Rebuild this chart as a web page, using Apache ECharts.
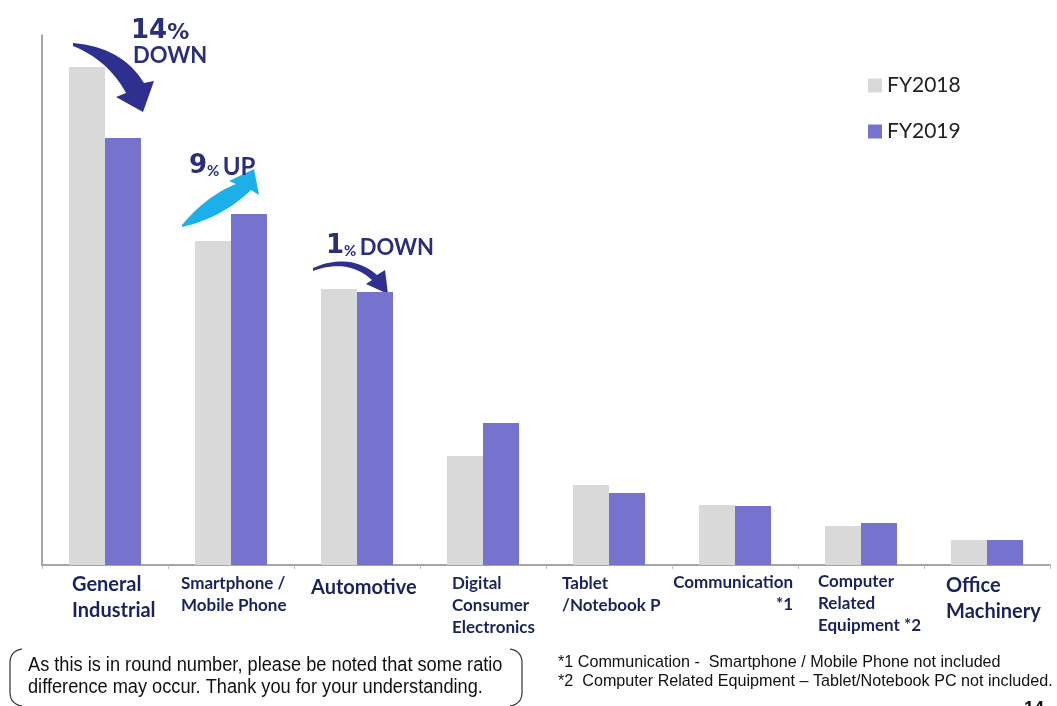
<!DOCTYPE html>
<html><head><meta charset="utf-8">
<script src="https://cdn.jsdelivr.net/npm/echarts@6/dist/echarts.min.js"></script>
<style>html,body{margin:0;padding:0;background:#fff}#c{width:1057px;height:706px}</style>
</head><body><div id="c"></div>
<script>
// ---- data ----
const categories = ["General\nIndustrial","Smartphone /\nMobile Phone","Automotive","Digital\nConsumer\nElectronics","Tablet\n/Notebook P","Communication\n*1","Computer\nRelated\nEquipment *2","Office\nMachinery"];
const seriesNames = ["FY2018","FY2019"];
const fy2018 = [498, 324, 276, 109, 80, 60, 39, 25];
const fy2019 = [427, 351, 273, 142, 72, 59, 42, 25];
const axisMax = 530;

// ---- label layout (styles only) ----
const labelLayout = [
  {dx:-33, size:20, lh:26, align:'left', y:572},
  {dx:-50, size:17, lh:22, align:'left', y:573},
  {dx:-46, size:20, lh:26, align:'left', y:575},
  {dx:-31, size:17, lh:22, align:'left', y:573},
  {dx:-47, size:17, lh:22, align:'left', y:573},
  {dx:58,  size:17, lh:22, align:'right', y:572},
  {dx:-43, size:17, lh:22, align:'left', y:571},
  {dx:-41, size:20, lh:26, align:'left', y:573}
];
const navy = '#1b2459';
const arrowNavy = '#2e2f8f';
const annot = '#2b2f78';

// sample a simple M/L/Q path string into points (decoration shapes only)
function pathPoints(d){
  const t = d.match(/[MLQ]|-?[\d.]+/g); const pts=[]; let i=0, cur=[0,0];
  while(i<t.length){
    const c=t[i++];
    if(c==='M'||c==='L'){cur=[+t[i],+t[i+1]]; i+=2; pts.push(cur);}
    else if(c==='Q'){const c1=[+t[i],+t[i+1]], e=[+t[i+2],+t[i+3]]; i+=4;
      for(let k=1;k<=16;k++){const s=k/16;
        pts.push([(1-s)*(1-s)*cur[0]+2*(1-s)*s*c1[0]+s*s*e[0],(1-s)*(1-s)*cur[1]+2*(1-s)*s*c1[1]+s*s*e[1]]);}
      cur=e;}
  }
  return pts;
}

const chart = echarts.init(document.getElementById('c'), null, {renderer:'canvas'});
const option = {
  animation:false,
  grid:{left:42, right:7, top:35, bottom:141},
  legend:{
    orient:'vertical', left:863, top:70, itemWidth:14, itemHeight:14, itemGap:25,
    icon:'rect',
    textStyle:{fontSize:21, fontFamily:'Lato', color:'#222'},
    data:seriesNames
  },
  xAxis:{
    type:'category', data:categories,
    axisLine:{lineStyle:{color:'#888', width:1.5}},
    axisTick:{show:true, length:4, lineStyle:{color:'#bbb'}},
    axisLabel:{show:false}
  },
  yAxis:{
    type:'value', min:0, max:axisMax,
    axisLine:{show:true, lineStyle:{color:'#888', width:1.5}},
    axisTick:{show:false}, axisLabel:{show:false}, splitLine:{show:false}
  },
  series:[
    {name:seriesNames[0], type:'bar', data:fy2018, barWidth:36, barGap:'0%', itemStyle:{color:'#d9d9d9'}},
    {name:seriesNames[1], type:'bar', data:fy2019, barWidth:36, itemStyle:{color:'#7673cf'}}
  ]
};
chart.setOption(option);

const g = [];
categories.forEach((c,i)=>{
  const p = chart.convertToPixel({xAxisIndex:0}, i);
  const L = labelLayout[i];
  g.push({type:'text', x:p+L.dx, y:L.y, style:{
    text:c, fill:navy, font:'bold '+L.size+'px Lato', lineHeight:L.lh,
    align:L.align, verticalAlign:'top'
  }});
});
// arrows
g.push({type:'polygon', shape:{points:pathPoints('M73,43 Q122,47 144,83 L154,81 L143,112 L116,97 L126,93 Q108,60 73,46')}, style:{fill:arrowNavy}});
g.push({type:'polygon', shape:{points:pathPoints('M182,225 Q206,196 236,184 L229,181 L254,169 L259,195 L251,190 Q222,218 182,227')}, style:{fill:'#1cb0ea'}});
g.push({type:'polygon', shape:{points:pathPoints('M313,268 Q350,252 377,275 L385,270 L388,294 L366,284 L372,280 Q348,258 313,271')}, style:{fill:arrowNavy}});
// annotation texts
const dj = '"DejaVu Sans"';
g.push({type:'text', x:131, y:18, style:{text:'{a|14}{b|%}', verticalAlign:'top', rich:{a:{font:'bold 26px '+dj, fill:annot, verticalAlign:'bottom'}, b:{font:'bold 22px '+dj, fill:annot, verticalAlign:'bottom'}}}});
g.push({type:'text', x:133, y:45, style:{text:'DOWN', font:'bold 22px Lato', fill:annot, verticalAlign:'top'}});
g.push({type:'text', x:189, y:153, style:{text:'{a|9}{b|%} {c|UP}', verticalAlign:'top', rich:{a:{font:'bold 26px '+dj, fill:annot, verticalAlign:'bottom'}, b:{font:'bold 15px Lato', fill:annot, verticalAlign:'bottom'}, c:{font:'bold 24px Lato', fill:annot, verticalAlign:'bottom'}}}});
g.push({type:'text', x:326, y:233, style:{text:'{a|1}{b|%} {c|DOWN}', verticalAlign:'top', rich:{a:{font:'bold 26px '+dj, fill:annot, verticalAlign:'bottom'}, b:{font:'bold 15px Lato', fill:annot, verticalAlign:'bottom'}, c:{font:'bold 22px Lato', fill:annot, verticalAlign:'bottom'}}}});
// footnote box
g.push({type:'polyline', shape:{points:pathPoints('M22,649 Q10,651 10,663 L10,692 Q10,704 22,706')}, style:{fill:null, stroke:'#333', lineWidth:1.2}});
g.push({type:'polyline', shape:{points:pathPoints('M510,649 Q522,651 522,663 L522,692 Q522,704 510,706')}, style:{fill:null, stroke:'#333', lineWidth:1.2}});
g.push({type:'text', x:28, y:654, scaleX:0.91, style:{text:'As this is in round number, please be noted that some ratio\ndifference may occur. Thank you for your understanding.', font:'20px "Liberation Sans"', lineHeight:22, fill:'#111', verticalAlign:'top'}});
g.push({type:'text', x:558, y:653, scaleX:0.95, style:{text:'*1 Communication -  Smartphone / Mobile Phone not included\n*2  Computer Related Equipment \u2013 Tablet/Notebook PC not included.', font:'17px "Liberation Sans"', lineHeight:19, fill:'#111', verticalAlign:'top'}});
g.push({type:'text', x:1024, y:700, style:{text:'14', font:'bold 18px "Liberation Sans"', fill:'#111', verticalAlign:'top'}});
chart.setOption({graphic:g});
</script></body></html>
